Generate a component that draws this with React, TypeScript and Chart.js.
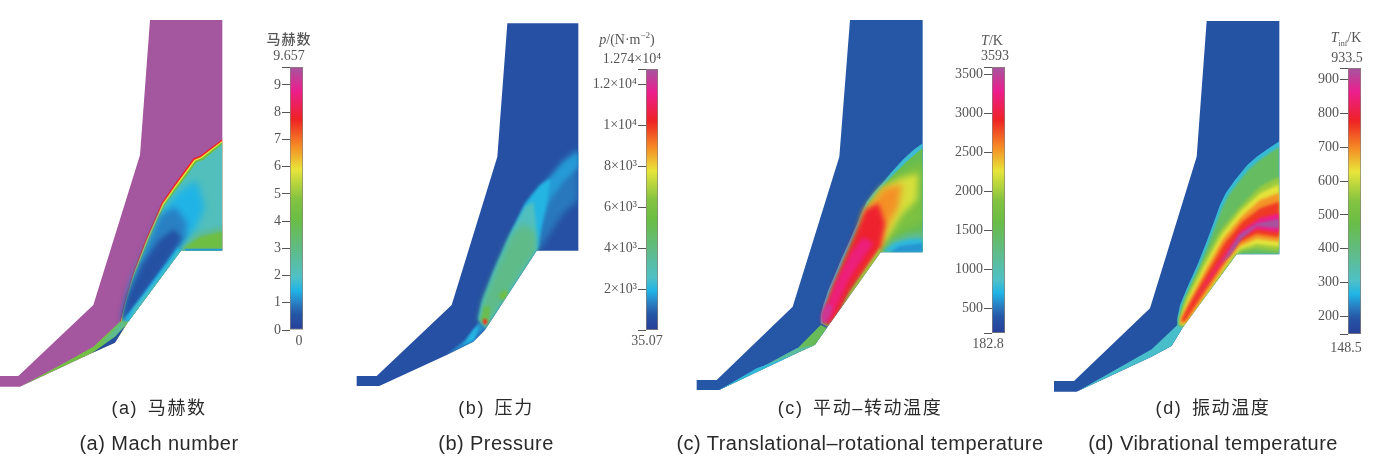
import React, { useEffect, useRef } from "react";
import { Chart, registerables } from "chart.js";

type Pt = [number, number];
type Layer = { v: number; soft: number; pts: Pt[] };

// ---- colour map stops (fraction of range, colour) ----
const mapStops: [number, string][] = [
  [0, "#273f99"], [0.06, "#2556a6"], [0.1, "#2a7cc0"], [0.15, "#20b4e6"], [0.2, "#4fc0c6"],
  [0.31, "#60bb85"], [0.42, "#6abd45"], [0.5, "#84c341"], [0.61, "#e8e53a"], [0.7, "#f58a25"],
  [0.8, "#ee2324"], [0.91, "#ec1e8e"], [1, "#a4569f"],
];

// ---- (a) Mach number contours ----
const machBody: Pt[] = [[450,30],[667,30],[667,722],[543,722],[385,935],[345,998],[275,1030],[60,1130],[0,1130],[0,1098],[55,1098],[280,885],[420,435]];
const machShockRed: Pt[] = [[360,935],[372,880],[398,790],[438,685],[485,578],[520,528],[580,445],[600,437],[667,388],[667,722],[543,722],[385,940]];
const machShockYellow: Pt[] = [[362,935],[375,880],[401,791],[441,687],[488,581],[523,531],[583,449],[603,441],[667,392],[667,722],[543,722],[385,940]];
const machShockGreen: Pt[] = [[364,935],[378,881],[404,793],[444,690],[491,584],[526,534],[586,452],[606,444],[667,396],[667,722],[543,722],[385,940]];
const machTeal: Pt[] = [[366,935],[381,882],[407,795],[447,693],[494,587],[530,538],[590,457],[610,449],[667,403],[667,722],[543,722],[385,940]];
const machCyan: Pt[] = [[372,930],[400,820],[455,690],[497,592],[535,546],[590,510],[615,590],[590,650],[545,705],[450,830]];
const machMidBlue: Pt[] = [[366,930],[392,820],[435,720],[480,615],[525,590],[560,635],[558,682],[480,790],[400,895]];
const machDarkBlue: Pt[] = [[364,930],[380,865],[425,765],[478,690],[522,658],[545,685],[498,765],[432,855],[378,928]];
const machWallCyan: Pt[] = [[385,935],[375,925],[450,825],[535,710],[543,722]];
const machWallTeal: Pt[] = [[385,935],[403,895],[470,812],[535,722],[543,722]];
const machGreenBase: Pt[] = [[543,718],[590,672],[667,650],[667,722]];
const machGreenCore: Pt[] = [[548,716],[600,682],[667,665],[667,716]];
const machBaseBlue: Pt[] = [[555,716],[667,716],[667,722],[555,722]];
const machWedgeGreen: Pt[] = [[60,1130],[205,1052],[280,1010],[360,935],[385,935],[345,998],[275,1030]];
const machWedgeTeal: Pt[] = [[300,1005],[360,938],[383,935],[355,975]];
const machWedgeBlue: Pt[] = [[275,1030],[345,980],[375,948],[345,998]];
const machLayers: Layer[] = [
  { v: 9.657, soft: 0, pts: machBody },
  { v: 7.8, soft: 0.3, pts: machShockRed },
  { v: 5.9, soft: 0.3, pts: machShockYellow },
  { v: 4.2, soft: 0.3, pts: machShockGreen },
  { v: 2.1, soft: 0.5, pts: machTeal },
  { v: 1.45, soft: 3.5, pts: machCyan },
  { v: 1.0, soft: 3, pts: machMidBlue },
  { v: 0.45, soft: 2.5, pts: machDarkBlue },
  { v: 1.45, soft: 1, pts: machWallCyan },
  { v: 2.1, soft: 0.8, pts: machWallTeal },
  { v: 3.0, soft: 2.5, pts: machGreenBase },
  { v: 4.2, soft: 1.2, pts: machGreenCore },
  { v: 1.2, soft: 0.3, pts: machBaseBlue },
  { v: 4.3, soft: 0.5, pts: machWedgeGreen },
  { v: 2.8, soft: 0.8, pts: machWedgeTeal },
  { v: 0.4, soft: 0.5, pts: machWedgeBlue },
];

// ---- (b) Pressure contours ----
const pressBody: Pt[] = [[472,40],[685,40],[685,722],[560,722],[405,960],[370,995],[290,1035],[88,1128],[20,1128],[20,1098],[80,1098],[305,885],[442,440]];
const pressShockBlue: Pt[] = [[540,575],[580,525],[640,448],[685,413],[685,570],[640,610],[600,670],[572,715],[560,722]];
const pressShockLight: Pt[] = [[555,555],[590,515],[640,458],[685,425],[685,470],[640,515],[600,570],[572,650],[560,680]];
const pressCyan: Pt[] = [[386,925],[396,880],[430,790],[480,675],[525,580],[570,525],[602,505],[592,570],[576,640],[566,710],[560,722],[405,955]];
const pressTeal: Pt[] = [[387,930],[398,875],[436,775],[487,660],[525,590],[550,575],[558,640],[559,722],[405,957]];
const pressGreen: Pt[] = [[388,930],[402,865],[440,775],[482,680],[520,640],[557,670],[559,722],[405,955]];
const pressSpot: Pt[] = [[445,855],[468,838],[476,855],[458,872]];
const pressHot: Pt[] = [[392,930],[404,885],[422,895],[412,945]];
const pressTip: Pt[] = [[398,928],[411,928],[411,943],[400,943]];
const pressForeCyan: Pt[] = [[290,1035],[345,990],[385,938],[405,955],[370,995]];
const pressForeLight: Pt[] = [[340,1005],[370,960],[388,945],[372,990]];
const pressLayers: Layer[] = [
  { v: 600, soft: 0, pts: pressBody },
  { v: 1250, soft: 3, pts: pressShockBlue },
  { v: 1650, soft: 2, pts: pressShockLight },
  { v: 2000, soft: 1.5, pts: pressCyan },
  { v: 2750, soft: 1.5, pts: pressTeal },
  { v: 3900, soft: 3, pts: pressGreen },
  { v: 5600, soft: 1.5, pts: pressSpot },
  { v: 5200, soft: 1.5, pts: pressHot },
  { v: 10000, soft: 0.8, pts: pressTip },
  { v: 1500, soft: 1.2, pts: pressForeCyan },
  { v: 2000, soft: 1.2, pts: pressForeLight },
];

// ---- (c) Translational-rotational temperature contours ----
const transBody: Pt[] = [[480,30],[698,30],[698,727],[572,727],[410,955],[375,1005],[320,1030],[88,1140],[20,1140],[20,1110],[80,1110],[308,890],[448,440]];
const transShock: Pt[] = [[392,940],[393,915],[400,885],[415,840],[432,800],[455,745],[480,690],[505,632],[530,575],[550,549],[575,521],[605,486],[640,448],[670,420],[698,400],[698,727],[572,727],[412,950]];
const transGreen: Pt[] = [[397,940],[398,915],[406,886],[421,842],[438,802],[461,748],[486,693],[511,636],[536,580],[556,556],[581,528],[611,494],[646,458],[676,432],[698,414],[698,727],[572,727],[412,950]];
const transLime: Pt[] = [[515,620],[560,550],[620,495],[698,455],[698,635],[640,660],[585,705],[480,850]];
const transYellow: Pt[] = [[525,605],[575,535],[630,505],[685,490],[680,570],[635,615],[595,680],[500,800]];
const transOrange: Pt[] = [[525,605],[580,535],[636,522],[625,590],[592,650],[574,708],[500,800]];
const transRed: Pt[] = [[402,905],[430,825],[480,705],[525,600],[565,580],[585,640],[572,712],[485,840],[430,945],[398,940]];
const transPink: Pt[] = [[400,915],[435,820],[485,725],[520,680],[550,700],[480,805],[432,905],[418,940]];
const transPurple: Pt[] = [[394,915],[408,880],[428,890],[412,938],[395,938]];
const transWallOrange: Pt[] = [[425,945],[478,850],[570,715],[572,727],[415,950]];
const transBaseTeal: Pt[] = [[575,725],[605,690],[650,672],[698,665],[698,727]];
const transBaseCyan: Pt[] = [[578,725],[612,700],[655,688],[698,685],[698,727]];
const transBaseBlue: Pt[] = [[600,727],[630,708],[698,700],[698,727]];
const transForeGreen: Pt[] = [[320,1018],[392,945],[412,955],[375,1005],[330,1026]];
const transForeTeal: Pt[] = [[88,1140],[320,1015],[375,1005],[320,1030]];
const transForeCyan: Pt[] = [[88,1140],[200,1075],[345,1022],[320,1030]];
const transLayers: Layer[] = [
  { v: 390, soft: 0, pts: transBody },
  { v: 800, soft: 0.5, pts: transShock },
  { v: 1550, soft: 0.6, pts: transGreen },
  { v: 1800, soft: 3, pts: transLime },
  { v: 2200, soft: 3, pts: transYellow },
  { v: 2550, soft: 3.5, pts: transOrange },
  { v: 2950, soft: 2.5, pts: transRed },
  { v: 3220, soft: 2, pts: transPink },
  { v: 3420, soft: 1.5, pts: transPurple },
  { v: 2000, soft: 0.8, pts: transWallOrange },
  { v: 1150, soft: 2.5, pts: transBaseTeal },
  { v: 750, soft: 1.5, pts: transBaseCyan },
  { v: 600, soft: 1.2, pts: transBaseBlue },
  { v: 1500, soft: 0.5, pts: transForeGreen },
  { v: 1100, soft: 0.5, pts: transForeTeal },
  { v: 760, soft: 0.5, pts: transForeCyan },
];

// ---- (d) Vibrational temperature contours ----
const vibBody: Pt[] = [[500,33],[718,33],[718,733],[590,733],[430,950],[395,1008],[335,1040],[110,1145],[42,1145],[42,1113],[102,1113],[330,895],[470,440]];
const vibFore: Pt[] = [[110,1145],[335,1018],[412,945],[432,948],[395,1008],[335,1040]];
const vibShock: Pt[] = [[411,945],[412,925],[420,885],[445,825],[472,765],[498,700],[522,635],[540,585],[557,550],[585,510],[622,465],[650,440],[682,418],[718,394],[718,733],[590,733],[430,952]];
const vibGreen: Pt[] = [[415,945],[416,925],[426,887],[451,828],[478,770],[504,705],[528,642],[546,594],[564,558],[592,520],[628,477],[656,452],[688,430],[718,410],[718,733],[590,733],[430,952]];
const vibLime: Pt[] = [[417,945],[419,925],[438,862],[490,755],[540,662],[600,590],[660,530],[718,500],[718,725],[650,716],[605,724],[592,733],[430,950]];
const vibYellow: Pt[] = [[419,943],[422,925],[442,868],[494,765],[544,675],[602,603],[660,550],[718,522],[718,710],[650,702],[600,718],[582,735],[435,945]];
const vibOrange: Pt[] = [[421,942],[424,925],[446,875],[498,778],[548,688],[604,620],[660,570],[718,548],[718,695],[650,686],[600,708],[570,745],[440,938]];
const vibRed: Pt[] = [[424,937],[426,925],[450,880],[502,788],[552,702],[606,636],[660,595],[718,575],[718,682],[650,672],[595,698],[560,745],[437,930]];
const vibPink: Pt[] = [[436,912],[508,800],[560,722],[602,664],[660,624],[718,610],[718,667],[650,658],[600,684],[565,730],[466,868]];
const vibPurple: Pt[] = [[545,760],[573,715],[598,674],[652,640],[718,626],[718,655],[650,648],[605,686],[570,737]];
const vibLayers: Layer[] = [
  { v: 190, soft: 0, pts: vibBody },
  { v: 300, soft: 0.6, pts: vibFore },
  { v: 285, soft: 0.6, pts: vibShock },
  { v: 440, soft: 1.2, pts: vibGreen },
  { v: 560, soft: 1.5, pts: vibLime },
  { v: 625, soft: 1.5, pts: vibYellow },
  { v: 690, soft: 1.5, pts: vibOrange },
  { v: 760, soft: 1.5, pts: vibRed },
  { v: 860, soft: 1.5, pts: vibPink },
  { v: 930, soft: 1.2, pts: vibPurple },
];

// ---- colour bar ticks ----
const machTicks = [0, 1, 2, 3, 4, 5, 6, 7, 8, 9];
const pressTicks = [2000, 4000, 6000, 8000, 10000, 12000];
const pressTickLabels = ["2×10³", "4×10³", "6×10³", "8×10³", "1×10⁴", "1.2×10⁴"];
const transTicks = [500, 1000, 1500, 2000, 2500, 3000, 3500];
const vibTicks = [200, 300, 400, 500, 600, 700, 800, 900];

// ---- captions ----
const captionsZh = ["(a) 马赫数", "(b) 压力", "(c) 平动–转动温度", "(d) 振动温度"];
const captionsEn = ["(a) Mach number", "(b) Pressure", "(c) Translational–rotational temperature", "(d) Vibrational temperature"];
const captionCentres = [159, 496, 860, 1213];

const softenPlugin: any = {
  id: "soften",
  beforeDatasetDraw(chart: any, args: any) {
    const ds = chart.data.datasets[args.index];
    if (!ds.soft) return;
    const ctx = chart.ctx;
    const body = chart.data.datasets[0].data;
    const sx = chart.scales.x, sy = chart.scales.y;
    ctx.save();
    ctx.beginPath();
    body.forEach((p: any, i: number) => {
      const x = sx.getPixelForValue(p.x), y = sy.getPixelForValue(p.y);
      if (i) ctx.lineTo(x, y); else ctx.moveTo(x, y);
    });
    ctx.closePath();
    ctx.clip();
    ctx.filter = `blur(${ds.soft}px)`;
  },
  afterDatasetDraw(chart: any, args: any) {
    if (chart.data.datasets[args.index].soft) chart.ctx.restore();
  },
};
Chart.register(softenPlugin, ...registerables);

function hex(c: string) {
  return [1, 3, 5].map((i) => parseInt(c.slice(i, i + 2), 16));
}
function colourAt(t: number) {
  const f = Math.min(1, Math.max(0, t));
  for (let i = 1; i < mapStops.length; i++) {
    if (f <= mapStops[i][0]) {
      const [a, ca] = mapStops[i - 1];
      const [b, cb] = mapStops[i];
      const k = (f - a) / (b - a);
      const A = hex(ca), B = hex(cb);
      return `rgb(${A.map((q, j) => Math.round(q + (B[j] - q) * k)).join(",")})`;
    }
  }
  return mapStops[mapStops.length - 1][1];
}

function Flow({ left, top, w, h, layers, min, max }: any) {
  const ref = useRef<HTMLCanvasElement>(null);
  useEffect(() => {
    const n = layers.length;
    const chart = new Chart(ref.current!, {
      type: "scatter",
      data: {
        datasets: layers.map((l: Layer, i: number) => ({
          data: l.pts.map(([x, y]) => ({ x, y })),
          showLine: true,
          fill: "shape",
          soft: l.soft,
          order: n - i,
          pointRadius: 0,
          borderWidth: 0,
          borderColor: "transparent",
          tension: 0,
          backgroundColor: colourAt((l.v - min) / (max - min)),
        })),
      } as any,
      options: {
        animation: false,
        responsive: false,
        events: [],
        layout: { padding: 0 },
        plugins: { legend: { display: false }, tooltip: { enabled: false } },
        scales: {
          x: { type: "linear", display: false, min: 0, max: w * 3 },
          y: { type: "linear", display: false, min: 0, max: h * 3, reverse: true },
        },
      },
    });
    return () => chart.destroy();
  }, []);
  return <canvas ref={ref} width={w} height={h} style={{ position: "absolute", left, top, width: w, height: h, filter: "blur(0.7px)" }} />;
}

function Bar({ barLeft, barRight, barTop, barBottom, min, max, ticks, labels, tickLen }: any) {
  const ref = useRef<HTMLCanvasElement>(null);
  const axisW = 62, pad = 10;
  const w = axisW + barRight - barLeft;
  const h = barBottom - barTop + pad * 2;
  useEffect(() => {
    const all = [min, ...ticks.filter((v: number) => v !== min), max];
    const chart = new Chart(ref.current!, {
      type: "bar",
      data: {
        labels: [""],
        datasets: [{
          data: [[min, max]],
          barPercentage: 1,
          categoryPercentage: 1,
          borderWidth: 1,
          borderColor: "#8a8078",
          borderSkipped: false,
          backgroundColor: (c: any) => {
            const a = c.chart.chartArea;
            if (!a) return mapStops[0][1];
            const g = c.chart.ctx.createLinearGradient(0, a.bottom, 0, a.top);
            mapStops.forEach(([t, col]) => g.addColorStop(t, col));
            return g;
          },
        }],
      } as any,
      options: {
        animation: false,
        responsive: false,
        events: [],
        layout: { padding: { top: pad, bottom: pad, left: 0, right: 0 } },
        plugins: { legend: { display: false }, tooltip: { enabled: false } },
        scales: {
          x: { display: false },
          y: {
            type: "linear",
            min,
            max,
            afterFit(s: any) { s.width = axisW; },
            afterBuildTicks(s: any) { s.ticks = all.map((value: number) => ({ value })); },
            border: { display: false },
            grid: { drawOnChartArea: false, drawTicks: true, tickLength: tickLen, color: "#555", lineWidth: 1 },
            ticks: {
              autoSkip: false,
              maxRotation: 0,
              padding: 1,
              color: "#555",
              font: { family: "'Liberation Serif', serif", size: 14 },
              callback: (v: any) => {
                const i = ticks.indexOf(v);
                return i < 0 ? "" : labels ? labels[i] : String(v);
              },
            },
          },
        },
      } as any,
    });
    return () => chart.destroy();
  }, []);
  return <canvas ref={ref} width={w} height={h} style={{ position: "absolute", left: barLeft - axisW, top: barTop - pad, width: w, height: h, filter: "blur(0.3px)" }} />;
}

const serif: React.CSSProperties = {
  position: "absolute",
  transform: "translate(-50%,-50%)",
  whiteSpace: "nowrap",
  color: "#555",
  fontFamily: "'Liberation Serif', serif",
  fontSize: 14,
  lineHeight: 1,
  filter: "blur(0.3px)",
};
const T = ({ x, y, children, style }: any) => <div style={{ ...serif, left: x, top: y, ...style }}>{children}</div>;

export default function App() {
  return (
    <div style={{ position: "absolute", left: 0, top: 0, width: 1377, height: 463, overflow: "hidden", background: "#fff" }}>
      <Flow left={0} top={10} w={340} h={400} layers={machLayers} min={0} max={9.657} />
      <Flow left={350} top={10} w={340} h={400} layers={pressLayers} min={35.07} max={12740} />
      <Flow left={690} top={10} w={340} h={400} layers={transLayers} min={182.8} max={3593} />
      <Flow left={1040} top={10} w={337} h={400} layers={vibLayers} min={148.5} max={933.5} />

      <Bar barLeft={290} barRight={303} barTop={67} barBottom={330} min={0} max={9.657} ticks={machTicks} tickLen={8} />
      <Bar barLeft={646} barRight={658} barTop={69} barBottom={330} min={35.07} max={12740} ticks={pressTicks} labels={pressTickLabels} tickLen={8} />
      <Bar barLeft={992} barRight={1005} barTop={67} barBottom={333} min={182.8} max={3593} ticks={transTicks} tickLen={8} />
      <Bar barLeft={1348} barRight={1361} barTop={68} barBottom={334} min={148.5} max={933.5} ticks={vibTicks} tickLen={8} />

      <T x={289} y={38} style={{ fontFamily: "'Noto Sans CJK SC', sans-serif", fontSize: 14, letterSpacing: 1, fontWeight: 500 }}>马赫数</T>
      <T x={289} y={56}>9.657</T>
      <T x={299} y={341}>0</T>
      <T x={627} y={40}><i>p</i>/(N·m<sup style={{ fontSize: 9, lineHeight: 0 }}>−2</sup>)</T>
      <T x={632} y={59}>1.274×10⁴</T>
      <T x={647} y={341}>35.07</T>
      <T x={992} y={41}><i>T</i>/K</T>
      <T x={995} y={56}>3593</T>
      <T x={988} y={344}>182.8</T>
      <T x={1346} y={38}><i>T</i><sub style={{ fontSize: 8, lineHeight: 0 }}>inf</sub>/K</T>
      <T x={1347} y={58}>933.5</T>
      <T x={1346} y={348}>148.5</T>

      {captionsZh.map((c, i) => (
        <div key={c} style={{ position: "absolute", left: captionCentres[i], top: 408, transform: "translate(-50%,-50%)", whiteSpace: "nowrap", fontFamily: "'Liberation Sans','Noto Sans CJK SC',sans-serif", fontSize: 18, letterSpacing: 1.6, wordSpacing: 3, color: "#2a2a2a", lineHeight: 1, filter: "blur(0.3px)" }}>{c}</div>
      ))}
      {captionsEn.map((c, i) => (
        <div key={c} style={{ position: "absolute", left: captionCentres[i], top: 443, transform: "translate(-50%,-50%)", whiteSpace: "nowrap", fontFamily: "'Liberation Sans',sans-serif", fontSize: 20, letterSpacing: 0.45, color: "#2a2a2a", lineHeight: 1, filter: "blur(0.3px)" }}>{c}</div>
      ))}
    </div>
  );
}
